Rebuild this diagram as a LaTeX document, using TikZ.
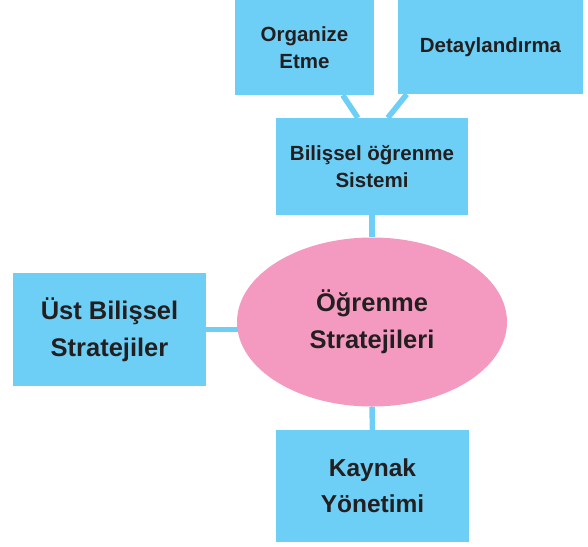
\documentclass[tikz,border=0pt]{standalone}
\usepackage{fontspec}
\setmainfont{Liberation Sans}
\usetikzlibrary{calc,backgrounds,shapes.geometric}
\definecolor{boxblue}{HTML}{6DCFF6}
\definecolor{ellpink}{HTML}{F49AC1}
\definecolor{txt}{HTML}{231F20}
\begin{document}
\begin{tikzpicture}[x=1pt,y=-1pt,
  bluebox/.style={fill=boxblue,draw=none,inner sep=0pt,align=center,text=txt},
  smalltxt/.style={font=\fontsize{20.5}{27}\selectfont\bfseries},
  bigtxt/.style={font=\fontsize{25.5}{37}\selectfont\bfseries},
  conn/.style={draw=boxblue,line width=5.5pt}]
\useasboundingbox (0,0) rectangle (588,546);
\node[bluebox,smalltxt,minimum width=139pt,minimum height=95pt] (org) at (304.5,47.5) {Organize\\Etme};
\node[bluebox,smalltxt,minimum width=185pt,minimum height=94pt] (det) at (490.5,47) {Detaylandırma};
\node[bluebox,smalltxt,minimum width=192pt,minimum height=97pt] (bil) at (372,166.5) {Bilişsel öğrenme\\Sistemi};
\node[bluebox,bigtxt,minimum width=193pt,minimum height=113pt] (ust) at (109.5,329.5) {Üst Bilişsel\\Stratejiler};
\node[ellipse,fill=ellpink,draw=none,inner sep=0pt,minimum width=270pt,minimum height=169pt,align=center,text=txt,bigtxt] (ell) at (372,322) {Öğrenme\\Stratejileri};
\node[bluebox,font=\fontsize{24.5}{36}\selectfont\bfseries,minimum width=193pt,minimum height=112pt] (kay) at (372.5,486) {Kaynak\\Yönetimi};
\begin{scope}[on background layer]
\fill[white] (0,0) rectangle (588,546);
\draw[conn] ($(org.south west)+(108,0)$) -- ($(bil.north west)+(82,0)$);
\draw[conn] ($(det.south west)+(9,0)$) -- ($(bil.north west)+(112,0)$);
\draw[conn] (bil.south) -- (ell.north);
\draw[conn] (ust.east) -- (ust.east -| ell.center);
\draw[conn] (ell.south) -- (kay.north);
\end{scope}
\end{tikzpicture}
\end{document}
